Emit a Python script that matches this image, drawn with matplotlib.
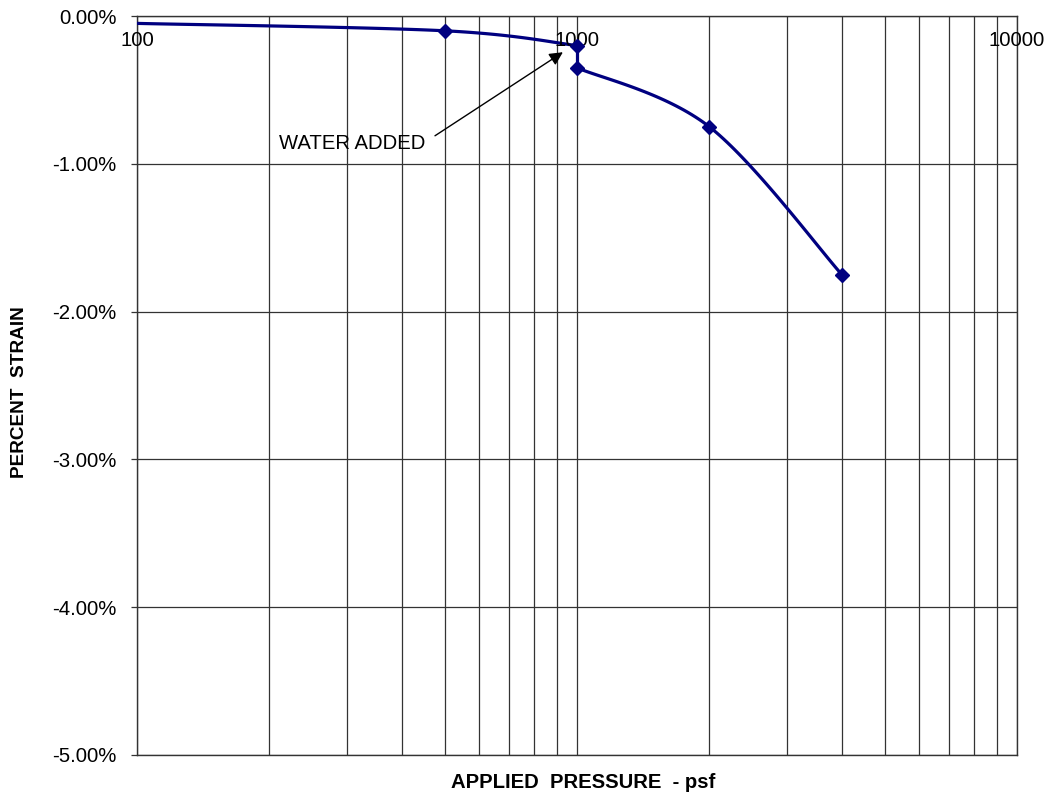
import numpy as np
import matplotlib.pyplot as plt
from matplotlib.ticker import FixedLocator, NullFormatter, FuncFormatter

plt.rcParams['font.family'] = ['Liberation Sans', 'DejaVu Sans']

# consolidation test readings (pressure in psf, strain in percent)
pressure_dry = [100, 500, 1000]
strain_dry = [-0.05, -0.10, -0.20]
pressure_wet = [1000, 2000, 4000]
strain_wet = [-0.35, -0.75, -1.75]

y_ticks = [0, -1, -2, -3, -4, -5]
x_labels = [100, 1000, 10000]


def smooth(xs, ys, n=40):
    # Catmull-Rom spline through the points, in log-x space
    u = np.log10(xs) * 440.0
    v = np.array(ys) * 147.0
    pts = np.column_stack([u, v])
    pts = np.vstack([pts[0], pts, pts[-1]])
    out = []
    for i in range(1, len(pts) - 2):
        p0, p1, p2, p3 = pts[i - 1], pts[i], pts[i + 1], pts[i + 2]
        c1 = p1 + (p2 - p0) / 6.0
        c2 = p2 - (p3 - p1) / 6.0
        t = np.linspace(0, 1, n)[:, None]
        seg = ((1 - t) ** 3) * p1 + 3 * ((1 - t) ** 2) * t * c1 + 3 * (1 - t) * t ** 2 * c2 + t ** 3 * p2
        out.append(seg if i == 1 else seg[1:])
    out = np.vstack(out)
    return 10 ** (out[:, 0] / 440.0), out[:, 1] / 147.0


fig = plt.figure(figsize=(10.52, 8), dpi=100)
ax = fig.add_axes([0.1302, 0.0563, 0.8365, 0.9237])

ax.set_xscale('log')
ax.set_xlim(100, 10000)
ax.set_ylim(-5, 0)

navy = '#000080'
sx1, sy1 = smooth(pressure_dry, strain_dry)
sx2, sy2 = smooth(pressure_wet, strain_wet)
ax.plot(sx1, sy1, color=navy, lw=2.3, zorder=3)
ax.plot([pressure_dry[-1], pressure_wet[0]], [strain_dry[-1], strain_wet[0]], color=navy, lw=2.3, zorder=3)
ax.plot(sx2, sy2, color=navy, lw=2.3, zorder=3)
ax.plot(pressure_dry[1:] + pressure_wet, strain_dry[1:] + strain_wet, ls='none',
        marker='D', ms=7.5, color=navy, zorder=4)

# grid
minor = [m * d for d in (100, 1000) for m in range(2, 10)]
ax.xaxis.set_major_locator(FixedLocator(x_labels))
ax.xaxis.set_minor_locator(FixedLocator(minor))
ax.xaxis.set_major_formatter(NullFormatter())
ax.xaxis.set_minor_formatter(NullFormatter())
ax.tick_params(axis='x', which='both', length=0)
for xv in x_labels + minor:
    ax.axvline(xv, color='#333333', lw=0.9, zorder=1)
ax.set_yticks(y_ticks)
for yv in y_ticks:
    ax.axhline(yv, color='#333333', lw=0.9, zorder=1)
ax.yaxis.set_major_formatter(FuncFormatter(lambda v, p: f'{v:.2f}%'))
ax.tick_params(axis='y', length=4.5, width=0.9, direction='out', labelsize=14.7, pad=10, color='#333333')

for s in ax.spines.values():
    s.set_color('#333333')
    s.set_linewidth(1.0)

for xv in x_labels:
    ax.text(xv, 0.9675, str(xv), transform=ax.get_xaxis_transform(),
            ha='center', va='center', fontsize=14.7)

ax.annotate('WATER ADDED', xy=(929, -0.245), xytext=(452, -0.86),
            ha='right', va='center', fontsize=14.6,
            arrowprops=dict(arrowstyle='-|>', color='black', lw=1, mutation_scale=20,
                            relpos=(1.0, 0.55), shrinkA=6, shrinkB=0))

fig.text(0.554, 0.0225, 'APPLIED  PRESSURE  - psf', ha='center', va='center',
         fontsize=14.6, fontweight='bold')
fig.text(0.019, 0.51, 'PERCENT  STRAIN', ha='center', va='center',
         rotation=90, fontsize=13.7, fontweight='bold')

fig.savefig('out.png', dpi=100)
